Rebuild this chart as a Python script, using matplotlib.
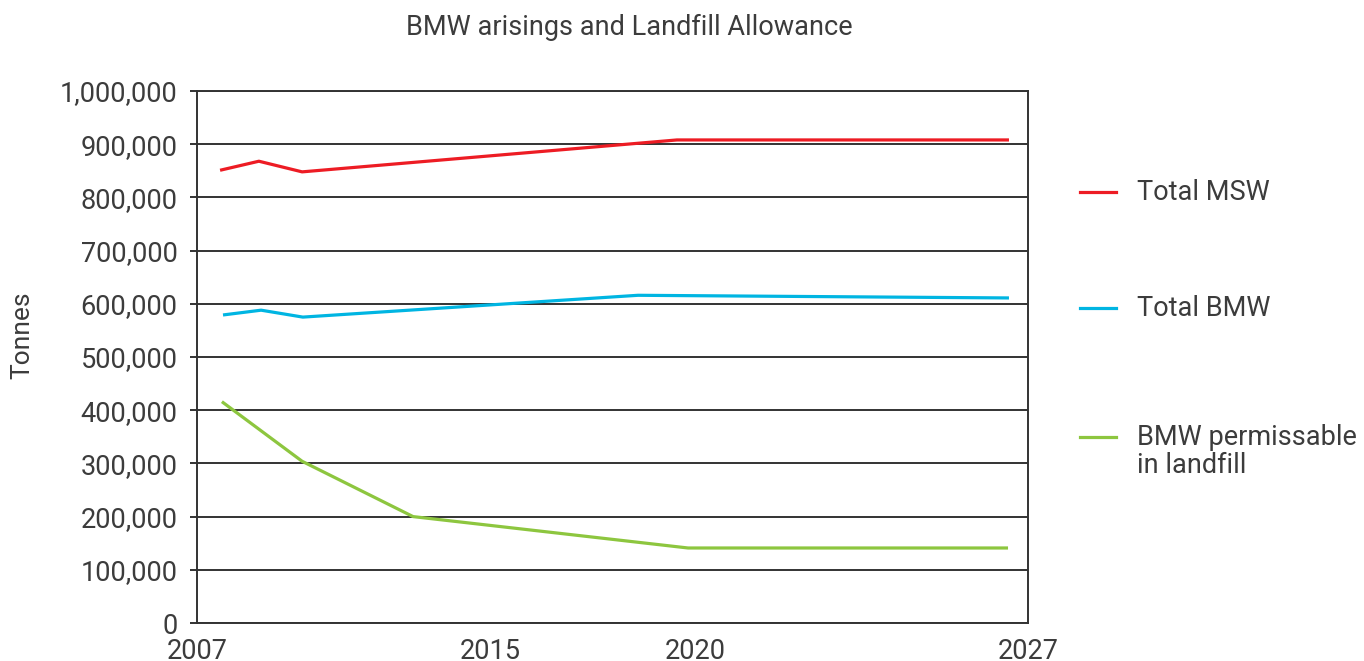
import numpy as np
import matplotlib
matplotlib.use("Agg")
import matplotlib.pyplot as plt
from matplotlib.lines import Line2D
from matplotlib.ticker import FuncFormatter, FixedLocator

plt.rcParams['font.family'] = ['Roboto', 'DejaVu Sans']

# ---- data ----
title = "BMW arisings and Landfill Allowance"
ylabel = "Tonnes"
tick_years = [2007, 2015, 2020, 2027]
tick_frac = [0.0, 0.3526, 0.5993, 1.0]   # relative placement of year ticks on the axis

msw_years = [2007.63, 2008.69, 2009.87, 2019.56, 2026.60]
msw_vals = [851000, 868000, 848000, 908000, 908000]

bmw_years = [2007.71, 2008.75, 2009.89, 2018.61, 2026.60]
bmw_vals = [579000, 588000, 575000, 616000, 611000]

land_years = [2007.68, 2009.87, 2012.90, 2019.83, 2026.58]
land_vals = [416000, 304000, 200000, 141000, 141000]

series_names = ["Total MSW", "Total BMW", "BMW permissable\nin landfill"]
colors = ["#ED1C24", "#00B5E2", "#8DC63F"]

yticks = np.arange(0, 1000001, 100000)

# ---- figure ----
W, H = 1364, 661
fig = plt.figure(figsize=(W / 100, H / 100), dpi=100)
ax = fig.add_axes([197 / W, 1 - 623 / H, (1028 - 197) / W, (623 - 91) / H])

def fwd(x):
    return np.interp(x, tick_years, tick_frac)

def inv(x):
    return np.interp(x, tick_frac, tick_years)

ax.set_xscale('function', functions=(fwd, inv))
ax.set_xlim(tick_years[0], tick_years[-1])
ax.set_ylim(0, 1000000)

textc = "#3c3c3c"
gridc = "#333333"

for xs, ys, c in zip([msw_years, bmw_years, land_years],
                     [msw_vals, bmw_vals, land_vals], colors):
    ax.plot(xs, ys, color=c, lw=2.3, solid_capstyle='butt', zorder=3)

ax.yaxis.set_major_locator(FixedLocator(yticks))
ax.yaxis.set_major_formatter(FuncFormatter(lambda v, p: f"{int(v):,}"))
ax.xaxis.set_major_locator(FixedLocator(tick_years))
ax.xaxis.set_major_formatter(FuncFormatter(lambda v, p: f"{int(round(v))}"))
ax.xaxis.set_minor_locator(FixedLocator([]))

ax.grid(axis='y', color=gridc, lw=1.4)
ax.set_axisbelow(True)
for s in ax.spines.values():
    s.set_color(gridc)
    s.set_linewidth(1.4)

ax.tick_params(axis='y', length=5, width=1.4, color=gridc, pad=9,
               labelsize=19.5, labelcolor=textc)
ax.tick_params(axis='x', length=0, pad=11, labelsize=19.5, labelcolor=textc)

fig.text(629 / W, 1 - 27 / H, title, ha='center', va='center',
         fontsize=19.5, color=textc)
fig.text(22 / W, 1 - 335 / H, ylabel, ha='center', va='center',
         rotation=90, fontsize=19, color=textc)

# legend (manual, to match spacing)
leg_y = [192, 308, 437]
for name, c, yy in zip(series_names, colors, leg_y):
    fig.add_artist(Line2D([1080 / W, 1116 / W], [1 - yy / H, 1 - yy / H],
                          color=c, lw=2.3, transform=fig.transFigure))
    fig.text(1137 / W, 1 - (yy - 13) / H, name, ha='left', va='top',
             fontsize=19.5, color=textc, linespacing=1.05)

fig.savefig("out.png", dpi=100)
